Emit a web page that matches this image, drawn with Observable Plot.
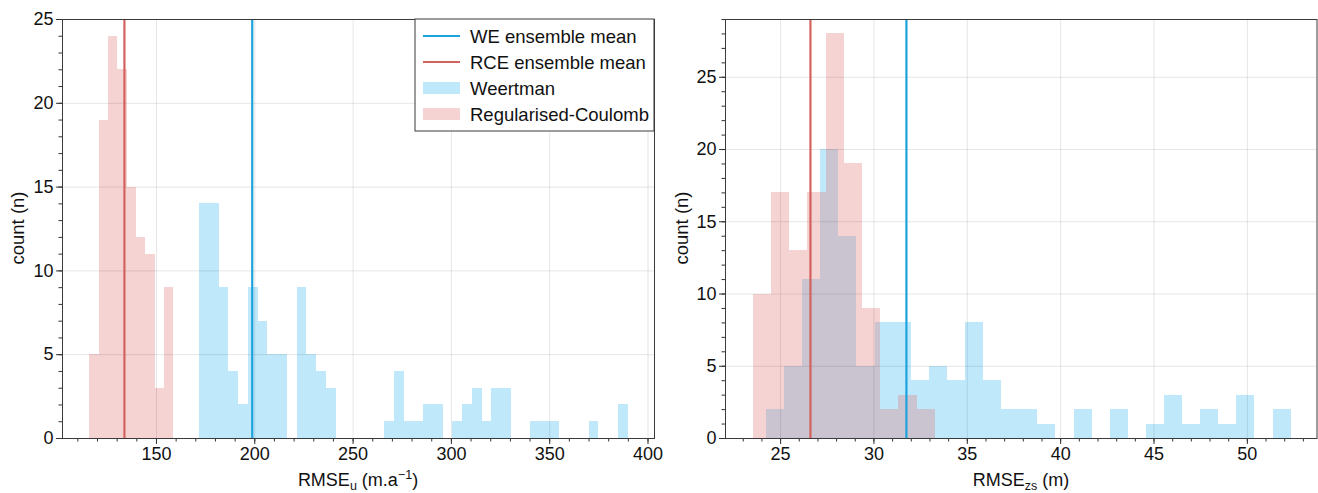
<!DOCTYPE html>
<html>
<head>
<meta charset="utf-8">
<script src="https://cdn.jsdelivr.net/npm/d3@7"></script>
<script src="https://cdn.jsdelivr.net/npm/@observablehq/plot@0.6"></script>
<style>
  html, body { margin: 0; padding: 0; background: #fff; }
  #wrap { display: flex; flex-direction: row; width: 1318px; height: 493px; }
  svg { display: block; }
</style>
</head>
<body>
<div id="wrap"></div>
<script>
// ---------- Data ----------
// Left panel: RMSE_u (m.a^-1)
const rcLeftStart = 116.1, rcLeftWidth = 4.744;
const rcLeftCounts = [5, 19, 24, 22, 15, 12, 11, 3, 9];
const weLeftStart = 172.0, weLeftWidth = 4.952;
const weLeftCounts = [14, 14, 9, 4, 2, 9, 7, 5, 5, 0,
                      9, 5, 4, 3, 0, 0, 0, 0, 0, 1,
                      4, 1, 1, 2, 2, 0, 1, 2, 3, 1,
                      3, 3, 0, 0, 1, 1, 1, 0, 0, 0,
                      1, 0, 0, 2];
const weLeftMean = 198.7, rcLeftMean = 133.7;

// Right panel: RMSE_zs (m)
const rcRightStart = 23.53, rcRightWidth = 0.976;
const rcRightCounts = [10, 17, 13, 17, 28, 19, 9, 2, 3, 2];
const weRightStart = 24.245, weRightWidth = 0.969;
const weRightCounts = [2, 5, 11, 20, 14, 5, 8, 8, 4, 5,
                       4, 8, 4, 2, 2, 1, 0, 2, 0, 2,
                       0, 1, 3, 1, 2, 1, 3, 0, 2];
const weRightMean = 31.74, rcRightMean = 26.6;

// Ticks
const leftXMajor = [150, 200, 250, 300, 350, 400];
const leftXMinor = d3.range(110, 401, 10);
const leftYMajor = [0, 5, 10, 15, 20, 25];
const leftYMinor = d3.range(0, 26, 1);
const rightXMajor = [25, 30, 35, 40, 45, 50];
const rightXMinor = d3.range(23, 54, 1);
const rightYMajor = [0, 5, 10, 15, 20, 25];
const rightYMinor = d3.range(0, 30, 1);

const legendLabels = ["WE ensemble mean", "RCE ensemble mean", "Weertman", "Regularised-Coulomb"];

// ---------- Styles ----------
const FONT = "'Liberation Sans', Arial, Helvetica, sans-serif";
const FS = 18;
const LFS = 18.5;
const weFill = "#bfe9fb";
const rcFill = "#e27272";
const rcOpacity = 0.31;
const weLine = "#1ca2dd";
const rcLine = "#d3625e";
const tickColor = "#333";

const makeBins = (start, width, counts) =>
  counts.map((c, i) => ({x1: start + i * width, x2: start + (i + 1) * width, count: c}));

function panel(cfg) {
  return Plot.plot({
    width: cfg.width, height: 493,
    marginLeft: cfg.marginLeft, marginRight: cfg.marginRight,
    marginTop: 19, marginBottom: 55,
    style: {fontFamily: FONT, fontSize: FS + "px", color: "#222", background: "transparent", overflow: "visible"},
    x: {domain: cfg.xDomain},
    y: {domain: cfg.yDomain},
    marks: [
      Plot.rect(makeBins(cfg.weStart, cfg.weWidth, cfg.weCounts),
        {x1: "x1", x2: "x2", y1: 0, y2: "count", fill: weFill, inset: 0, shapeRendering: "crispEdges"}),
      Plot.rect(makeBins(cfg.rcStart, cfg.rcWidth, cfg.rcCounts),
        {x1: "x1", x2: "x2", y1: 0, y2: "count", fill: rcFill, fillOpacity: rcOpacity, inset: 0, shapeRendering: "crispEdges"}),
      Plot.gridX(cfg.xMajor, {stroke: "#000", strokeOpacity: 0.1}),
      Plot.gridY(cfg.yMajor, {stroke: "#000", strokeOpacity: 0.1}),
      Plot.ruleX([cfg.rcMean], {stroke: rcLine, strokeWidth: 2.2}),
      Plot.ruleX([cfg.weMean], {stroke: weLine, strokeWidth: 2.2}),
      Plot.axisX(cfg.xMinor, {tickSize: 3.5, stroke: tickColor, tickFormat: () => "", label: null}),
      Plot.axisX(cfg.xMajor, {tickSize: 6, tickPadding: 3, stroke: tickColor, fill: "#111", label: null}),
      Plot.axisY(cfg.yMinor, {tickSize: 3.5, stroke: tickColor, tickFormat: () => "", label: null}),
      Plot.axisY(cfg.yMajor, {tickSize: 6, tickPadding: 3, stroke: tickColor, fill: "#111", label: null}),
      Plot.frame({stroke: "#3a3a3a", strokeWidth: 1})
    ]
  });
}

const left = panel({
  width: 665, marginLeft: 62, marginRight: 11,
  xDomain: [102.2, 403.3], yDomain: [0, 25],
  weStart: weLeftStart, weWidth: weLeftWidth, weCounts: weLeftCounts,
  rcStart: rcLeftStart, rcWidth: rcLeftWidth, rcCounts: rcLeftCounts,
  weMean: weLeftMean, rcMean: rcLeftMean,
  xMajor: leftXMajor, xMinor: leftXMinor, yMajor: leftYMajor, yMinor: leftYMinor
});
const right = panel({
  width: 653, marginLeft: 60, marginRight: 1.5,
  xDomain: [22.05, 53.73], yDomain: [0, 29],
  weStart: weRightStart, weWidth: weRightWidth, weCounts: weRightCounts,
  rcStart: rcRightStart, rcWidth: rcRightWidth, rcCounts: rcRightCounts,
  weMean: weRightMean, rcMean: rcRightMean,
  xMajor: rightXMajor, xMinor: rightXMinor, yMajor: rightYMajor, yMinor: rightYMinor
});

document.getElementById("wrap").append(left, right);

// ---------- Axis labels with sub/superscripts ----------
function yLabel(svg, x, y) {
  d3.select(svg).append("text")
    .attr("transform", `translate(${x},${y}) rotate(-90)`)
    .attr("text-anchor", "middle")
    .attr("dominant-baseline", "middle")
    .style("font-family", FONT).style("font-size", LFS + "px").attr("fill", "#111")
    .text("count (n)");
}
function xLabel(svg, x, y, sub, tail, sup, tail2) {
  const t = d3.select(svg).append("text")
    .attr("x", x).attr("y", y)
    .attr("text-anchor", "middle")
    .style("font-family", FONT).style("font-size", FS + "px").attr("fill", "#111");
  t.append("tspan").text("RMSE");
  t.append("tspan").attr("dy", 4).style("font-size", "12.5px").text(sub);
  t.append("tspan").attr("dy", -4).text(tail);
  if (sup) {
    t.append("tspan").attr("dy", -7).style("font-size", "12.5px").text(sup);
    t.append("tspan").attr("dy", 7).text(tail2);
  }
}
yLabel(left, 19, 228);
xLabel(left, 358, 486, "u", " (m.a", "\u22121", ")");
yLabel(right, 18, 228);
xLabel(right, 356, 486, "zs", " (m)");

// ---------- Legend (left panel, upper right) ----------
(function legend(svg) {
  const g = d3.select(svg).append("g")
    .style("font-family", FONT).style("font-size", LFS + "px")
    .attr("text-anchor", "start");
  const bx = 415, by = 19, bw = 654 - 415, bh = 112;
  g.append("rect").attr("x", bx).attr("y", by).attr("width", bw).attr("height", bh)
    .attr("fill", "#fff").attr("stroke", "#3a3a3a").attr("stroke-width", 1);
  const rows = [36, 62, 88, 114];
  const kinds = [
    {type: "line", color: weLine},
    {type: "line", color: rcLine},
    {type: "patch", color: weFill, op: 1},
    {type: "patch", color: rcFill, op: rcOpacity}
  ];
  kinds.forEach((k, i) => {
    const yy = rows[i];
    if (k.type === "line") {
      g.append("line").attr("x1", 423).attr("x2", 460).attr("y1", yy).attr("y2", yy)
        .attr("stroke", k.color).attr("stroke-width", 2);
    } else {
      g.append("rect").attr("x", 423).attr("y", yy - 6).attr("width", 37).attr("height", 12)
        .attr("fill", k.color).attr("fill-opacity", k.op);
    }
    g.append("text").attr("x", 470).attr("y", yy).attr("dominant-baseline", "central")
      .attr("text-anchor", "start")
      .attr("fill", "#111").text(legendLabels[i]);
  });
})(left);
</script>
</body>
</html>
